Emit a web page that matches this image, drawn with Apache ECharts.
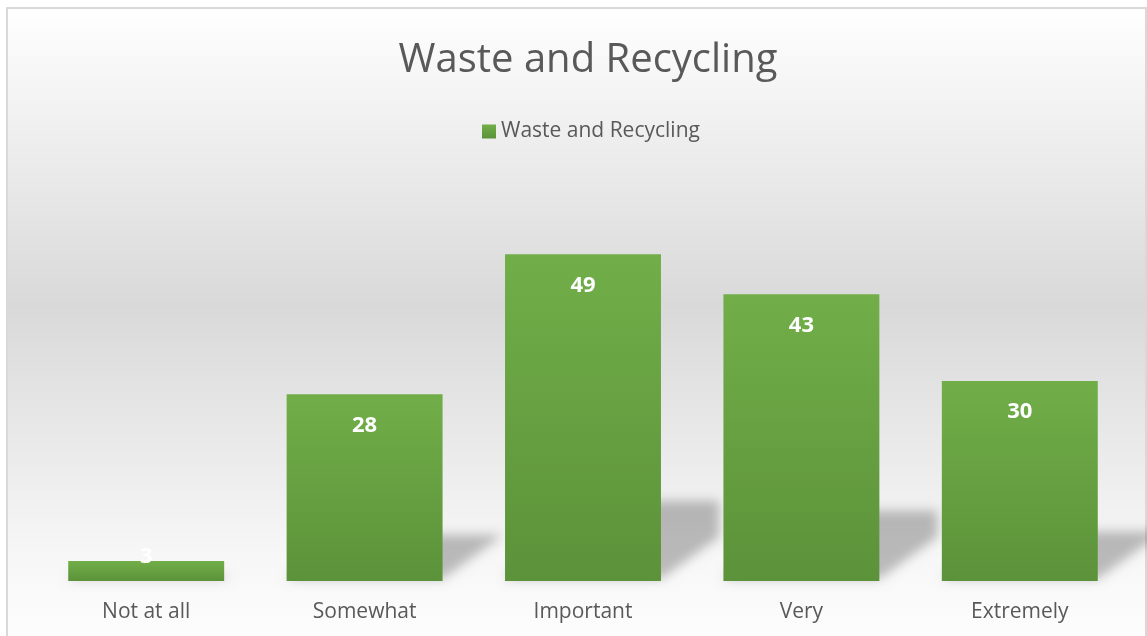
<!DOCTYPE html>
<html>
<head>
<meta charset="utf-8">
<script src="https://cdn.jsdelivr.net/npm/echarts@6/dist/echarts.min.js"></script>
<style>
  html, body { margin: 0; padding: 0; background: #fff; }
  #main { width: 1147px; height: 636px; }
</style>
</head>
<body>
<div id="main"></div>
<script>
// chart data
const categories = ['Not at all', 'Somewhat', 'Important', 'Very', 'Extremely']
const values = [3, 28, 49, 43, 30]
const seriesName = 'Waste and Recycling'

const chart = echarts.init(document.getElementById('main'), null, { renderer: 'canvas' })

const barGreen = new echarts.graphic.LinearGradient(0, 0, 0, 1, [
  { offset: 0, color: '#71ae48' },
  { offset: 1, color: '#5c923a' }
])

// soft floor shadow behind each bar; the shape sits off to the left and
// only its blurred canvas shadow is moved back under the bar
const SHIFT = 3000
function renderShadow(params, api) {
  const idx = api.value(0)
  const v = api.value(1)
  const base = api.coord([idx, 0])
  const top = api.coord([idx, v])
  const w = api.size([1, 0])[0] * 0.714
  const xl = base[0] - w / 2 - SHIFT
  const xr = base[0] + w / 2 - SHIFT
  const y0 = base[1] - 2
  const h = (y0 - top[1]) * 0.24
  const dx = Math.min(58, h * 1.3)
  const slant = Math.min(42, h)
  return {
    type: 'polygon',
    shape: {
      points: [[xl, y0], [xr, y0], [xr + dx, y0 - slant], [xr + dx, y0 - h], [xl + dx, y0 - h]]
    },
    style: {
      fill: '#000',
      shadowBlur: 11,
      shadowOffsetX: SHIFT,
      shadowColor: 'rgba(0,0,0,0.25)'
    }
  }
}

const barData = values.map(v => {
  if (v < 5) {
    return { value: v, label: { position: 'top', distance: -7 } }
  }
  return v
})

const option = {
  animation: false,
  graphic: [{
    type: 'rect',
    z: -10,
    silent: true,
    shape: { x: 7, y: 8, width: 1139, height: 660 },
    style: {
      fill: new echarts.graphic.LinearGradient(0, 0, 0, 1, [
        { offset: 0, color: '#ffffff' },
        { offset: 0.45, color: '#d9d9d9' },
        { offset: 0.83, color: '#f7f7f7' },
        { offset: 1, color: '#ffffff' }
      ]),
      stroke: '#d9d9d9',
      lineWidth: 2
    }
  }],
  title: {
    text: 'Waste and Recycling',
    left: 583,
    textAlign: 'center',
    top: 36,
    textStyle: {
      fontFamily: 'Open Sans',
      fontSize: 40,
      fontWeight: 'normal',
      color: '#595959'
    }
  },
  legend: {
    data: [seriesName],
    left: 477,
    top: 116,
    itemWidth: 14,
    itemHeight: 14,
    itemGap: 6,
    icon: 'rect',
    textStyle: {
      fontFamily: 'Open Sans',
      fontSize: 21,
      color: '#595959'
    }
  },
  grid: { left: 37, right: 18, top: 181, bottom: 55 },
  xAxis: {
    type: 'category',
    data: categories,
    axisLine: { show: false },
    axisTick: { show: false },
    axisLabel: {
      margin: 21,
      fontFamily: 'Open Sans',
      fontSize: 21,
      color: '#595959'
    }
  },
  yAxis: {
    type: 'value',
    min: 0,
    max: 60,
    show: false
  },
  series: [
    {
      type: 'custom',
      name: 'shadow',
      silent: true,
      z: 1,
      renderItem: renderShadow,
      data: values.map((v, i) => [i, v])
    },
    {
      name: seriesName,
      type: 'bar',
      z: 2,
      barCategoryGap: '28.6%',
      data: barData,
      itemStyle: { color: barGreen },
      label: {
        show: true,
        position: 'insideTop',
        distance: 20,
        fontFamily: 'Open Sans',
        fontSize: 22,
        fontWeight: 'bold',
        color: '#ffffff'
      }
    }
  ]
}

chart.setOption(option)
</script>
</body>
</html>
